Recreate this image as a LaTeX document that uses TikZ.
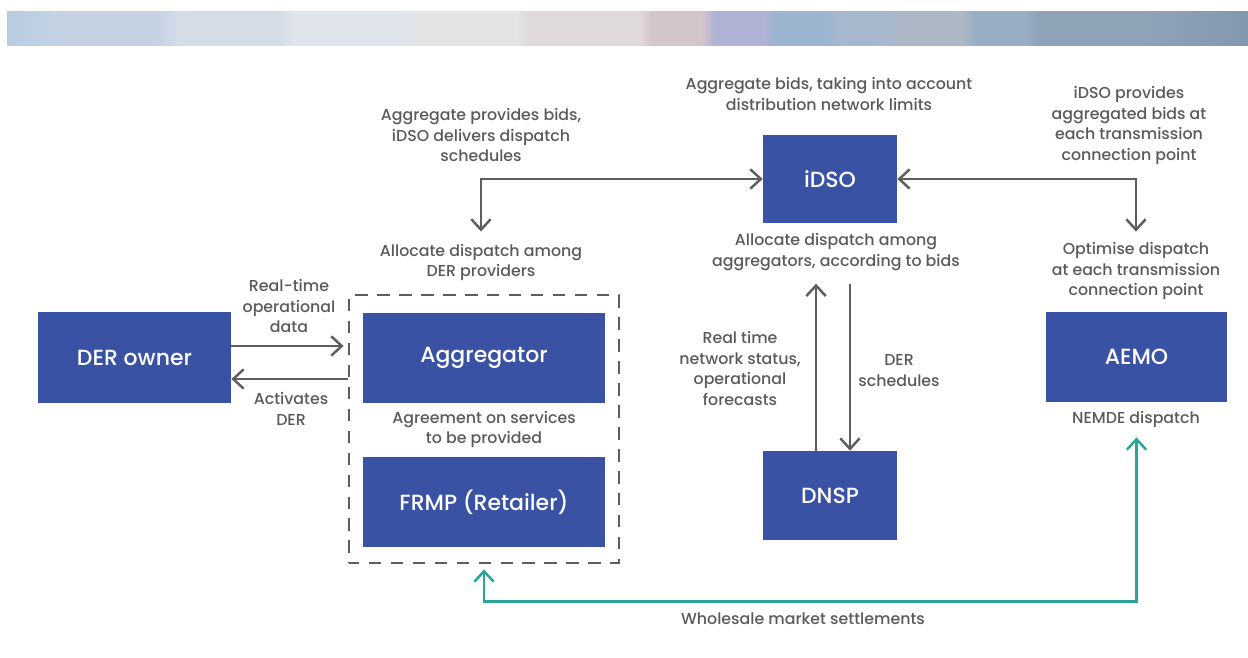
\documentclass[tikz,border=0pt]{standalone}
\usepackage{fontspec}
\setmainfont{Poppins}[UprightFont=* Medium]
\usetikzlibrary{arrows.meta}
\definecolor{derblue}{HTML}{3A52A3}
\definecolor{inkgray}{HTML}{5A5A5A}
\definecolor{wiregray}{HTML}{5E5E5E}
\definecolor{settleteal}{HTML}{2AA59A}
% banner facets, left to right
\definecolor{bnA}{HTML}{B8CCE0}
\definecolor{bnB}{HTML}{C4D2E4}
\definecolor{bnC}{HTML}{D4DCE8}
\definecolor{bnD}{HTML}{E0E4EC}
\definecolor{bnE}{HTML}{E4E4E6}
\definecolor{bnF}{HTML}{E0D9DB}
\definecolor{bnG}{HTML}{D4C4CC}
\definecolor{bnH}{HTML}{AEB2D4}
\definecolor{bnI}{HTML}{9BB4D0}
\definecolor{bnJ}{HTML}{A8B8CC}
\definecolor{bnK}{HTML}{ACB8C6}
\definecolor{bnL}{HTML}{98AEC4}
\definecolor{bnM}{HTML}{90A4B8}
\definecolor{bnN}{HTML}{8298AE}
\pgfdeclarehorizontalshading{bannershade}{100bp}{color(0bp)=(bnA);
  color(25bp)=(bnA); color(27bp)=(bnB); color(31bp)=(bnB);
  color(32bp)=(bnC); color(36bp)=(bnC); color(36.5bp)=(bnD);
  color(41bp)=(bnD); color(41.5bp)=(bnE); color(45.5bp)=(bnE);
  color(46bp)=(bnF); color(50.5bp)=(bnF); color(51bp)=(bnG);
  color(53bp)=(bnG); color(53.5bp)=(bnH); color(55.5bp)=(bnH);
  color(56bp)=(bnI); color(58bp)=(bnI); color(58.5bp)=(bnJ);
  color(60.5bp)=(bnJ); color(61bp)=(bnK); color(63.5bp)=(bnK);
  color(64bp)=(bnL); color(66bp)=(bnL); color(66.5bp)=(bnM);
  color(70.5bp)=(bnM); color(75bp)=(bnN); color(100bp)=(bnN)}

\begin{document}
\begin{tikzpicture}[x=0.02cm,y=-0.02cm,
  party/.style={shape=rectangle,fill=derblue,text=white,inner sep=0pt,font=\fontsize{12.5}{15}\selectfont},
  note/.style={align=center,text=inkgray,inner sep=0pt,font=\fontsize{9}{11.9}\selectfont},
  flow/.style={draw=wiregray,line width=1.4pt,-{Straight Barb[length=6pt,width=11pt]}},
  twoway/.style={draw=wiregray,line width=1.4pt,{Straight Barb[length=6pt,width=11pt]}-{Straight Barb[length=6pt,width=11pt]}},
  settle/.style={twoway,draw=settleteal}]
\useasboundingbox (0,0) rectangle (1248,657);

% banner strip
\shade[shading=bannershade] (7,11) rectangle (1248,45);

% parties
\node[party,minimum width=3.86cm,minimum height=1.82cm] (owner) at (134.5,357.5) {DER owner};
\node[party,minimum width=4.84cm,minimum height=1.8cm] (agg) at (484,358) {Aggregator};
\node[party,minimum width=4.84cm,minimum height=1.8cm] (frmp) at (484,502) {FRMP (Retailer)};
\node[party,minimum width=2.68cm,minimum height=1.76cm] (idso) at (830,179) {iDSO};
\node[party,minimum width=2.68cm,minimum height=1.78cm] (dnsp) at (830,495.5) {DNSP};
\node[party,minimum width=3.62cm,minimum height=1.8cm] (aemo) at (1136.5,357) {AEMO};
\node[draw=wiregray,line width=1.6pt,dash pattern=on 0.25cm off 0.19cm,dash phase=0.05cm,minimum width=5.4cm,minimum height=5.36cm,inner sep=0pt] (pool) at (484,429) {};

% notes
\node[note] (bidsnote) at (481,135) {Aggregate provides bids,\\iDSO delivers dispatch\\schedules};
\node[note] (limitsnote) at (829,94) {Aggregate bids, taking into account\\distribution network limits};
\node[note] (tpnote) at (1129,125.5) {iDSO provides\\aggregated bids at\\each transmission\\connection point};
\node[note] (dernote) at (481,262.5) {Allocate dispatch among\\DER providers};
\node[note] (aggnote) at (836,252.5) {Allocate dispatch among\\aggregators, according to bids};
\node[note] (optnote) at (1136,271) {Optimise dispatch\\at each transmission\\connection point};
\node[note] (datanote) at (289,306) {Real-time\\operational\\data};
\node[note] (actnote) at (291,408.5) {Activates\\DER};
\node[note] (agreenote) at (484,429.5) {Agreement on services\\to be provided};
\node[note] (statusnote) at (740,368.5) {Real time\\network status,\\operational\\forecasts};
\node[note] (schednote) at (899,370.5) {DER\\schedules};
\node[note] (nemdenote) at (1136,419) {NEMDE dispatch};
\node[note] (wholenote) at (803,619) {Wholesale market settlements};

% flows
\draw[flow,shorten >=0.08cm] (owner.east |- 0,346) -- (pool.west |- 0,346);
\draw[flow] (pool.west |- 0,379) -- (owner.east |- 0,379);
\draw[twoway,shorten <=0.24cm] (dernote.north) |- (idso.west);
\draw[twoway,shorten <=0.2cm] (optnote.north) |- (idso.east);
\draw[flow] ([xshift=-0.28cm]dnsp.north) -- ++(0,-167);
\draw[flow] ([xshift=0.4cm]dnsp.north) ++(0,-167) -- ([xshift=0.4cm]dnsp.north);
\draw[settle,shorten <=0.1cm,shorten >=0.7cm] (pool.south) -- ++(0,37) -| (aemo.south);
\end{tikzpicture}
\end{document}
